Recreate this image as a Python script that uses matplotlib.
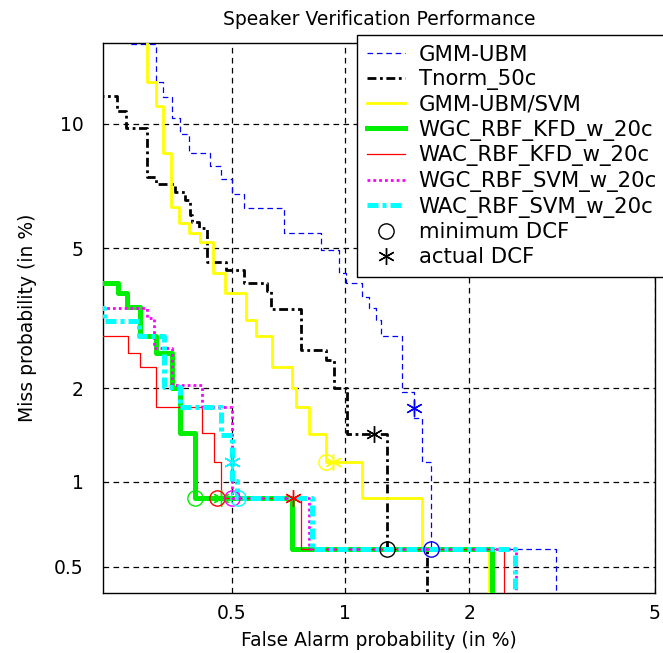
import math
import numpy as np
import matplotlib
matplotlib.use("Agg")
import matplotlib.pyplot as plt
from matplotlib.lines import Line2D

# ---------------- data (percent) ----------------
gmm_ubm_fa = [0.2, 0.253, 0.305, 0.318, 0.339, 0.358, 0.378, 0.433, 0.466, 0.5, 0.539, 0.692,
              0.866, 0.963, 1.004, 1.101, 1.147, 1.193, 1.226, 1.381, 1.479, 1.545, 1.624, 3.13]
gmm_ubm_miss = [20, 14.7, 12.33, 11.46, 10.32, 9.50, 8.60, 8.01, 7.46, 6.86, 6.34, 5.47,
                4.94, 4.30, 4.03, 3.69, 3.44, 3.18, 2.87, 1.95, 1.62, 1.16, 0.583, 0.1]

tnorm_fa = [0.2, 0.233, 0.248, 0.287, 0.305, 0.346, 0.370, 0.380, 0.386, 0.405, 0.427,
            0.482, 0.539, 0.623, 0.640, 0.769, 0.893, 0.934, 1.01, 1.27, 1.587]
tnorm_miss = [11.51, 10.69, 9.80, 7.54, 7.25, 6.94, 6.63, 6.08, 5.84, 5.64, 4.60,
              4.37, 4.03, 3.85, 3.42, 2.60, 2.43, 2.01, 1.44, 0.583, 0.1]

svm_fa = [0.2, 0.287, 0.305, 0.318, 0.337, 0.355, 0.378, 0.407, 0.444, 0.478, 0.546,
          0.583, 0.643, 0.725, 0.744, 0.806, 0.893, 1.101, 1.545, 2.215]
svm_miss = [20, 12.33, 10.97, 8.60, 6.37, 5.81, 5.47, 5.18, 4.30, 3.79, 3.18,
            2.87, 2.32, 2.01, 1.75, 1.44, 1.165, 0.876, 0.583, 0.1]

wgc_kfd_fa = [0.2, 0.235, 0.250, 0.273, 0.305, 0.339, 0.358, 0.395, 0.727, 2.25]
wgc_kfd_miss = [4.04, 3.79, 3.46, 2.87, 2.56, 2.01, 1.45, 0.876, 0.583, 0.1]

wac_kfd_fa = [0.2, 0.251, 0.273, 0.305, 0.411, 0.447, 0.466, 0.768, 2.396]
wac_kfd_miss = [2.87, 2.56, 2.32, 1.747, 1.442, 1.165, 0.876, 0.583, 0.1]

wgc_svm_fa = [0.2, 0.287, 0.301, 0.339, 0.411, 0.5, 0.806, 2.558]
wgc_svm_miss = [3.44, 3.22, 2.64, 2.04, 1.747, 0.876, 0.583, 0.1]

wac_svm_fa = [0.2, 0.213, 0.271, 0.322, 0.358, 0.466, 0.5, 0.516, 0.82, 2.545]
wac_svm_miss = [3.44, 3.16, 2.87, 2.02, 1.747, 1.42, 1.007, 0.876, 0.583, 0.1]

system_names = ["GMM-UBM", "Tnorm_50c", "GMM-UBM/SVM", "WGC_RBF_KFD_w_20c",
                "WAC_RBF_KFD_w_20c", "WGC_RBF_SVM_w_20c", "WAC_RBF_SVM_w_20c"]

min_dcf_fa = [1.624, 1.27, 0.893, 0.395, 0.455, 0.5, 0.52]
min_dcf_miss = [0.583, 0.583, 1.165, 0.876, 0.876, 0.876, 0.876]
act_dcf_fa = [1.479, 1.18, 0.929, 0.466, 0.731, 0.5, 0.5]
act_dcf_miss = [1.735, 1.44, 1.165, 0.876, 0.876, 1.165, 1.165]

x_ticks = [0.5, 1, 2, 5]
x_tick_labels = ["0.5", "1", "2", "5"]
y_ticks = [0.5, 1, 2, 5, 10]
y_tick_labels = ["0.5", "1", "2", "5", "10"]

# ---------------- probit scale ----------------
_a = [-3.969683028665376e+01, 2.209460984245205e+02, -2.759285104469687e+02,
      1.383577518672690e+02, -3.066479806614716e+01, 2.506628277459239e+00]
_b = [-5.447609879822406e+01, 1.615858368580409e+02, -1.556989798598866e+02,
      6.680131188771972e+01, -1.328068155288572e+01]
_c = [-7.784894002430293e-03, -3.223964580411365e-01, -2.400758277161838e+00,
      -2.549732539343734e+00, 4.374664141464968e+00, 2.938163982698783e+00]
_d = [7.784695709041462e-03, 3.224671290700398e-01, 2.445134137142996e+00,
      3.754408661907416e+00]


def _ppf(p):
    p = np.clip(np.asarray(p, dtype=float), 1e-12, 1 - 1e-12)
    plow = 0.02425
    with np.errstate(all="ignore"):
        q = np.sqrt(-2 * np.log(p))
        xl = (((((_c[0]*q+_c[1])*q+_c[2])*q+_c[3])*q+_c[4])*q+_c[5]) / \
             ((((_d[0]*q+_d[1])*q+_d[2])*q+_d[3])*q+1)
        qq = p - 0.5
        r = qq * qq
        xc = (((((_a[0]*r+_a[1])*r+_a[2])*r+_a[3])*r+_a[4])*r+_a[5])*qq / \
             (((((_b[0]*r+_b[1])*r+_b[2])*r+_b[3])*r+_b[4])*r+1)
        qh = np.sqrt(-2 * np.log(1 - p))
        xh = -(((((_c[0]*qh+_c[1])*qh+_c[2])*qh+_c[3])*qh+_c[4])*qh+_c[5]) / \
             ((((_d[0]*qh+_d[1])*qh+_d[2])*qh+_d[3])*qh+1)
    return np.where(p < plow, xl, np.where(p > 1 - plow, xh, xc))


_erf = np.vectorize(math.erf)


def fwd(x):
    return _ppf(np.asarray(x, dtype=float) / 100.0)


def inv(z):
    z = np.asarray(z, dtype=float)
    return 100.0 * 0.5 * (1 + _erf(z / math.sqrt(2)))


# ---------------- figure ----------------
plt.rcParams['font.family'] = ['DejaVu Sans']
FS = 13.5
LFS = 15.3
W, H = 663, 653
fig = plt.figure(figsize=(W / 100, H / 100), dpi=100)
ax = fig.add_axes([103 / W, 1 - 593 / H, (655 - 103) / W, (593 - 43) / H])
ax.set_xscale('function', functions=(fwd, inv))
ax.set_yscale('function', functions=(fwd, inv))

styles = [
    dict(color='#0000ff', lw=0.9, ls=(0, (4.5, 3))),
    dict(color='black', lw=2.0, ls=(0, (3.2, 1.3, 1.0, 1.3))),
    dict(color='#ffff00', lw=2.0, ls='-'),
    dict(color='#00ee00', lw=3.6, ls='-'),
    dict(color='#ff0000', lw=0.9, ls='-'),
    dict(color='#ff00ff', lw=2.0, ls=(0, (1, 1.1))),
    dict(color='#00ffff', lw=3.6, ls=(0, (2.2, 0.8, 0.8, 0.8))),
]
series = [(gmm_ubm_fa, gmm_ubm_miss), (tnorm_fa, tnorm_miss), (svm_fa, svm_miss),
          (wgc_kfd_fa, wgc_kfd_miss), (wac_kfd_fa, wac_kfd_miss),
          (wgc_svm_fa, wgc_svm_miss), (wac_svm_fa, wac_svm_miss)]

handles = []
for (fa, miss), st, name in zip(series, styles, system_names):
    ln, = ax.plot(fa, miss, drawstyle='steps-post', color=st['color'], lw=st['lw'],
                  linestyle=st['ls'], label=name, zorder=3)
    handles.append(ln)

ast = (6, 2, 0)
for i, st in enumerate(styles):
    ax.plot([min_dcf_fa[i]], [min_dcf_miss[i]], ls='none', marker='o', ms=11,
            mfc='none', mec=st['color'], mew=1.0, zorder=4)
    ax.plot([act_dcf_fa[i]], [act_dcf_miss[i]], ls='none', marker=ast, ms=12,
            mfc=st['color'], mec=st['color'], mew=1.0, zorder=4)

ax.set_xlim(0.212, 5.0)
ax.set_ylim(0.4, 14.8)
ax.set_xticks(x_ticks)
ax.set_xticklabels(x_tick_labels, fontsize=FS)
ax.set_yticks(y_ticks)
ax.set_yticklabels(y_tick_labels, fontsize=FS)
ax.minorticks_off()
ax.tick_params(direction='in', length=0)
ax.tick_params(axis='x', pad=8)
ax.tick_params(axis='y', pad=14)
ax.grid(True, color='black', linestyle=(0, (4.5, 3.5)), linewidth=0.9)
ax.set_axisbelow(True)
for s in ax.spines.values():
    s.set_linewidth(1.0)
    s.set_color('black')

ax.set_xlabel('False Alarm probability (in %)', fontsize=FS, labelpad=6)
ax.set_ylabel('Miss probability (in %)', fontsize=FS, labelpad=12)
ax.set_title('Speaker Verification Performance', fontsize=FS, pad=13)

h_min = Line2D([], [], ls='none', marker='o', ms=11, mfc='none', mec='black', mew=1.0)
h_act = Line2D([], [], ls='none', marker=ast, ms=12, mfc='black', mec='black', mew=1.0)
leg = fig.legend(handles + [h_min, h_act], system_names + ['minimum DCF', 'actual DCF'],
                 loc='upper left', bbox_to_anchor=(357 / W, 1 - 35 / H),
                 bbox_transform=fig.transFigure, fontsize=LFS, frameon=True,
                 fancybox=False, framealpha=1, edgecolor='black', borderpad=0.45,
                 labelspacing=0.22, handlelength=1.8, handletextpad=0.65,
                 borderaxespad=0)
leg.get_frame().set_linewidth(1.0)

fig.savefig('out.png', dpi=100)
